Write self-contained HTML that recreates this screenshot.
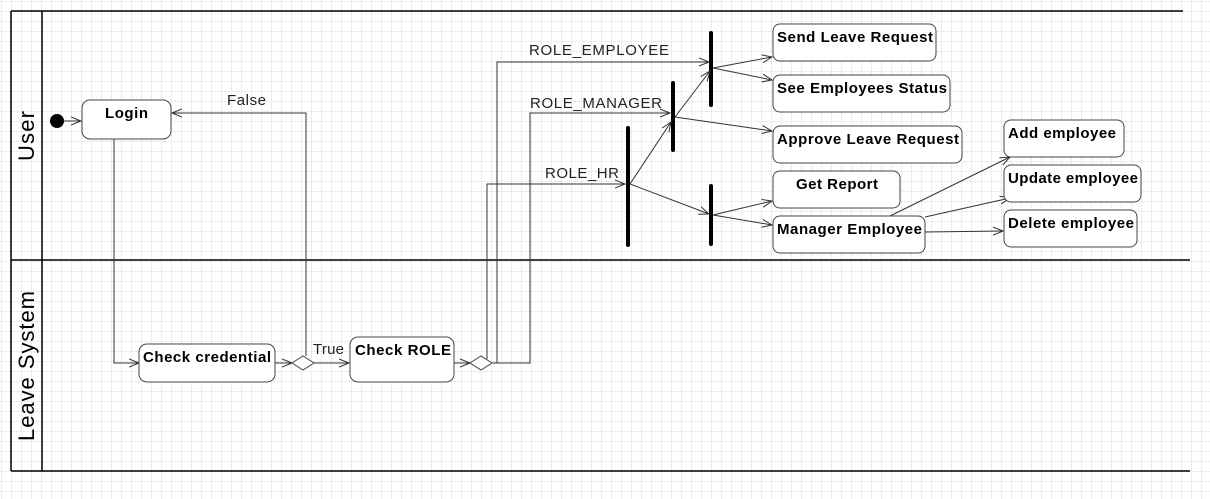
<!DOCTYPE html>
<html><head><meta charset="utf-8"><style>
html,body{margin:0;padding:0;}
body{width:1210px;height:499px;overflow:hidden;background-color:#fff;
background-image:linear-gradient(#ececec 1px,transparent 1px),linear-gradient(90deg,#ececec 1px,transparent 1px);
background-size:10px 10px;background-position:1px 1px;}
svg{position:absolute;left:0;top:0;}
text{font-family:"Liberation Sans",sans-serif;}
.b{font-weight:bold;font-size:15px;fill:#000;}
.l{font-size:15px;fill:#222;}
.box{fill:#fff;stroke:#444;stroke-width:1;}
.ln{fill:none;stroke:#333;stroke-width:1;}
</style></head><body>
<svg width="1210" height="499" viewBox="0 0 1210 499">
<defs>
<marker id="a" markerWidth="12" markerHeight="10" refX="10" refY="5" orient="auto" markerUnits="userSpaceOnUse">
<path d="M0,1 L10,5 L0,9" fill="none" stroke="#333" stroke-width="1"/></marker>
</defs>
<g stroke="#000" stroke-width="1.5" fill="none">
<line x1="11" y1="11" x2="1183" y2="11"/>
<line x1="11" y1="11" x2="11" y2="471"/>
<line x1="42" y1="11" x2="42" y2="471"/>
<line x1="11" y1="260" x2="1190" y2="260"/>
<line x1="11" y1="471" x2="1190" y2="471"/>
</g>
<text x="34" y="136" transform="rotate(-90 34 136)" text-anchor="middle" font-size="22" fill="#000" font-family="Liberation Sans" textLength="50">User</text>
<text x="34" y="366" transform="rotate(-90 34 366)" text-anchor="middle" font-size="22" fill="#000" font-family="Liberation Sans" textLength="150">Leave System</text>
<circle cx="57" cy="121" r="7" fill="#000"/>
<line class="ln" x1="64" y1="121" x2="81" y2="121" marker-end="url(#a)"/>
<polyline class="ln" points="114,139 114,363 139,363" marker-end="url(#a)"/>
<polyline class="ln" points="275,363 292,363" marker-end="url(#a)"/>
<polyline class="ln" points="306,356 306,113 172,113" marker-end="url(#a)"/>
<text class="l" x="227" y="105" textLength="39">False</text>
<line class="ln" x1="314" y1="363" x2="349" y2="363" marker-end="url(#a)"/>
<text class="l" x="313" y="354" textLength="31">True</text>
<line class="ln" x1="454" y1="363" x2="470" y2="363" marker-end="url(#a)"/>
<polyline class="ln" points="492,363 530,363 530,113 670,113" marker-end="url(#a)"/>
<polyline class="ln" points="497,363 497,62 709,62" marker-end="url(#a)"/>
<polyline class="ln" points="487,359 487,184 625,184" marker-end="url(#a)"/>
<text class="l" x="529" y="55" textLength="140">ROLE_EMPLOYEE</text>
<text class="l" x="530" y="108" textLength="132">ROLE_MANAGER</text>
<text class="l" x="545" y="178" textLength="74">ROLE_HR</text>
<polygon points="292,363 303,356 314,363 303,370" fill="#fff" stroke="#444"/>
<polygon points="470,363 481,356 492,363 481,370" fill="#fff" stroke="#444"/>
<g stroke="#000" stroke-width="4" stroke-linecap="round">
<line x1="711" y1="33" x2="711" y2="105"/>
<line x1="673" y1="83" x2="673" y2="150"/>
<line x1="628" y1="128" x2="628" y2="245"/>
<line x1="711" y1="186" x2="711" y2="244"/>
</g>
<g class="ln">
<line x1="713" y1="68" x2="772" y2="57" marker-end="url(#a)"/>
<line x1="713" y1="68" x2="772" y2="80" marker-end="url(#a)"/>
<line x1="675" y1="117" x2="772" y2="131" marker-end="url(#a)"/>
<line x1="675" y1="117" x2="710" y2="71" marker-end="url(#a)"/>
<line x1="630" y1="184" x2="671" y2="122" marker-end="url(#a)"/>
<line x1="630" y1="184" x2="709" y2="214" marker-end="url(#a)"/>
<line x1="713" y1="215" x2="772" y2="201" marker-end="url(#a)"/>
<line x1="713" y1="215" x2="772" y2="225" marker-end="url(#a)"/>
<line x1="890" y1="216" x2="1010" y2="157" marker-end="url(#a)"/>
<line x1="925" y1="217" x2="1010" y2="198" marker-end="url(#a)"/>
<line x1="925" y1="232" x2="1003" y2="231" marker-end="url(#a)"/>
</g>
<g>
<rect class="box" x="82" y="100" width="89" height="39" rx="8"/>
<text class="b" x="105" y="118" textLength="43">Login</text>
<rect class="box" x="139" y="344" width="136" height="38" rx="8"/>
<text class="b" x="143" y="362" textLength="128">Check credential</text>
<rect class="box" x="350" y="337" width="104" height="45" rx="8"/>
<text class="b" x="355" y="355" textLength="96">Check ROLE</text>
<rect class="box" x="773" y="24" width="163" height="37" rx="7"/>
<text class="b" x="777" y="42" textLength="156">Send Leave Request</text>
<rect class="box" x="773" y="75" width="177" height="37" rx="7"/>
<text class="b" x="777" y="93" textLength="170">See Employees Status</text>
<rect class="box" x="773" y="126" width="189" height="37" rx="7"/>
<text class="b" x="777" y="144" textLength="182">Approve Leave Request</text>
<rect class="box" x="773" y="171" width="127" height="37" rx="7"/>
<text class="b" x="796" y="189" textLength="82">Get Report</text>
<rect class="box" x="773" y="216" width="152" height="37" rx="7"/>
<text class="b" x="777" y="234" textLength="145">Manager Employee</text>
<rect class="box" x="1004" y="120" width="120" height="37" rx="7"/>
<text class="b" x="1008" y="138" textLength="108">Add employee</text>
<rect class="box" x="1004" y="165" width="137" height="37" rx="7"/>
<text class="b" x="1008" y="183" textLength="130">Update employee</text>
<rect class="box" x="1004" y="210" width="133" height="37" rx="7"/>
<text class="b" x="1008" y="228" textLength="126">Delete employee</text>
</g>
</svg>
</body></html>
